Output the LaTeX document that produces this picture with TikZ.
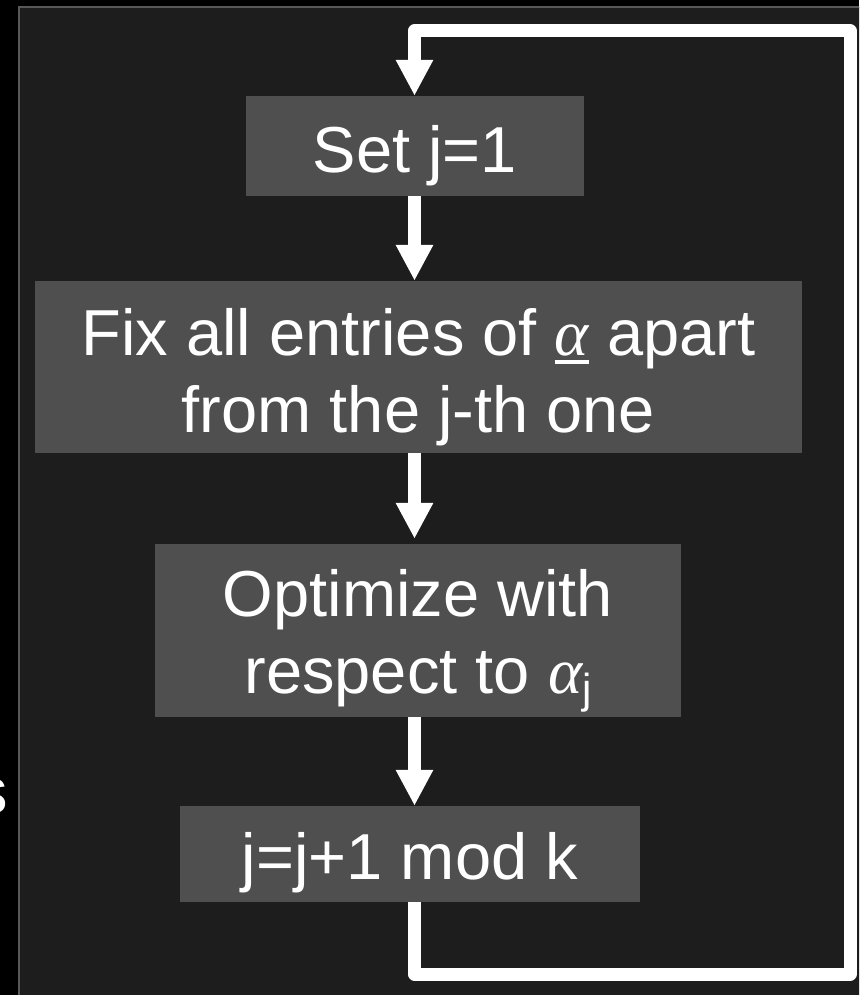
\documentclass[tikz,border=0pt]{standalone}
\usepackage{fontspec}
\setmainfont{Liberation Sans}
\newfontfamily\greekfont{Liberation Serif}
\usetikzlibrary{arrows.meta}
\definecolor{outerbg}{HTML}{000000}
\definecolor{panel}{HTML}{1D1D1D}
\definecolor{framegray}{HTML}{585858}
\definecolor{boxfill}{HTML}{4F4F4F}
\newcommand\ualpha{\setbox0\hbox{\greekfont\itshape α}\rlap{\rule[-9pt]{\wd0}{4pt}}\box0}
\newcommand\alphaj{{\greekfont\itshape α}\raisebox{-10pt}{\fontsize{42}{42}\selectfont j}}
\tikzset{
  flowbox/.style={fill=boxfill, text=white, inner sep=0pt, align=center,
    font=\fontsize{65}{77}\selectfont, text depth=0pt},
  flowarrow/.style={draw=white, line width=13pt,
    -{Triangle[width=35pt,length=36pt]}},
  loopline/.style={draw=white, line width=13pt, line join=round,
    -{Triangle[width=35pt,length=36pt]}}
}
\begin{document}
\begin{tikzpicture}[x=1pt,y=-1pt]
\useasboundingbox (0,0) rectangle (859,995);
\begin{scope}
\clip (0,0) rectangle (859,995);
\fill[outerbg] (0,0) rectangle (859,995);
\draw[fill=panel, draw=framegray, line width=2pt] (19,7) rectangle (880,1020);
\node[text=white, font=\fontsize{65}{77}\selectfont, anchor=base east, inner sep=0pt] (cut) at (8,813) {s};

\node[flowbox, minimum width=338pt, minimum height=100pt, text height=52pt] (b1) at (415,146) {Set j=1};
\node[flowbox, minimum width=767pt, minimum height=172pt, text height=130pt] (b2) at (418.5,367)
  {Fix all entries of \ualpha{} apart\\from the j-th one};
\node[flowbox, minimum width=526pt, minimum height=173pt, text height=125pt] (b3) at (418,630.5)
  {Optimize with\\respect to \alphaj};
\node[flowbox, minimum width=460pt, minimum height=96pt, text height=50pt] (b4) at (410,854)
  {j=j+1 mod k};

\coordinate (ax) at (414.5,0);
\coordinate (lb) at (414.5,974);
\coordinate (rb) at (850,974);
\coordinate (rt) at (850,31);
\coordinate (lt) at (414.5,31);

\draw[flowarrow] (b1.south -| ax) -- (b2.north -| ax);
\draw[flowarrow, shorten >=5pt] (b2.south -| ax) -- (b3.north -| ax);
\draw[flowarrow] (b3.south -| ax) -- (b4.north -| ax);
\draw[loopline] (b4.south -| ax) -- (lb) -- (rb) -- (rt) -- (lt) -- (b1.north -| ax);
\end{scope}
\end{tikzpicture}
\end{document}
